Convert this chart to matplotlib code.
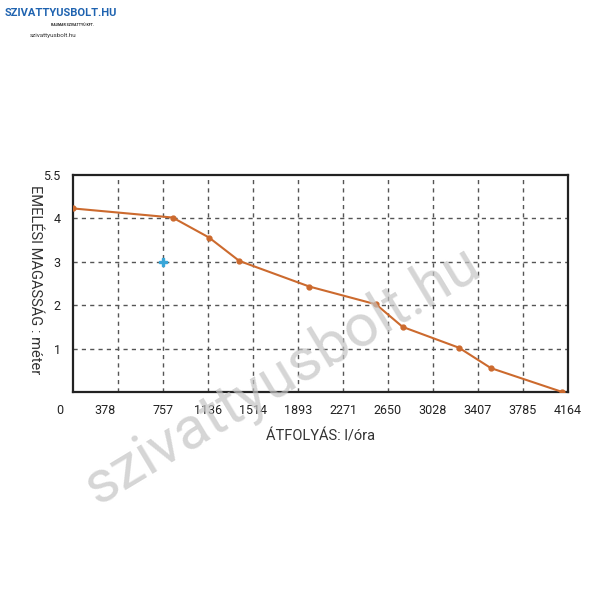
import numpy as np
import matplotlib.pyplot as plt
import matplotlib.transforms as mtransforms

# adatok
flow = [0, 838, 1144, 1399, 1988, 2549, 2773, 3247, 3516, 4116]
head = [4.23, 4.02, 3.56, 3.02, 2.43, 2.02, 1.50, 1.02, 0.55, 0.0]
op_point = (757, 3.0)

x_ticks = [0, 378, 757, 1136, 1514, 1893, 2271, 2650, 3028, 3407, 3785, 4164]
y_ticks = [1, 2, 3, 4, 5]
y_labels = ["1", "2", "3", "4", "5.5"]

plt.rcParams['font.family'] = ['Roboto', 'DejaVu Sans']

fig = plt.figure(figsize=(6.01, 6.0), dpi=100)
ax = fig.add_axes([0.1215, 0.3467, 0.8235, 0.3616])

ax.plot(flow, head, color="#cc6a2e", lw=1.5, marker="o", ms=3.5, zorder=3)
ax.plot(*op_point, marker="P", color="#3aa6d8", ms=5.5, zorder=4)

ax.set_xlim(0, 4164)
ax.set_ylim(0, 5)
ax.set_xticks(x_ticks)
ax.set_xticklabels([str(v) for v in x_ticks], fontsize=9, color="#222222")
ax.set_yticks(y_ticks)
ax.set_yticklabels(y_labels, fontsize=9, color="#222222")
ax.tick_params(length=0, pad=9)

# az első két felirat balra tolva, mint az eredetin
for lab in ax.get_xticklabels()[:2]:
    lab.set_transform(lab.get_transform() +
                      mtransforms.ScaledTranslation(-0.13, 0, fig.dpi_scale_trans))

# rácsvonalak
for xv in np.linspace(0, 4164, 12)[1:-1]:
    ax.axvline(xv, color="#555555", ls=(0, (3, 3)), lw=1.0, zorder=1)
for yv in [1, 2, 3, 4]:
    ax.axhline(yv, color="#555555", ls=(0, (3, 3)), lw=1.0, zorder=1)

for s in ax.spines.values():
    s.set_linewidth(1.6)
    s.set_color("#222222")

ax.set_xlabel("ÁTFOLYÁS: l/óra", fontsize=10.5, labelpad=9, color="#333333")
ax.set_ylabel("EMELÉSI MAGASSÁG : méter", fontsize=10.5, rotation=270,
              color="#333333", va="center")
ax.yaxis.set_label_coords(-0.077, 0.52)

# logó
fig.text(0.008, 0.978, "SZIVATTYUSBOLT.HU", fontsize=8, fontweight="bold",
         color="#1f63b0", va="center")
fig.text(0.085, 0.958, "RAUMAR SZIVATTYÚ KFT.", fontsize=2.5,
         fontweight="bold", color="#222222", va="center")
fig.text(0.05, 0.94, "szivattyusbolt.hu", fontsize=4.5, color="#333333",
         va="center")

# vízjel
fig.text(0.468, 0.374, "szivattyusbolt.hu", fontsize=43, color="#c4c4c4",
         alpha=0.7, rotation=31, ha="center", va="center", zorder=10)

fig.savefig("out.png", dpi=100)
